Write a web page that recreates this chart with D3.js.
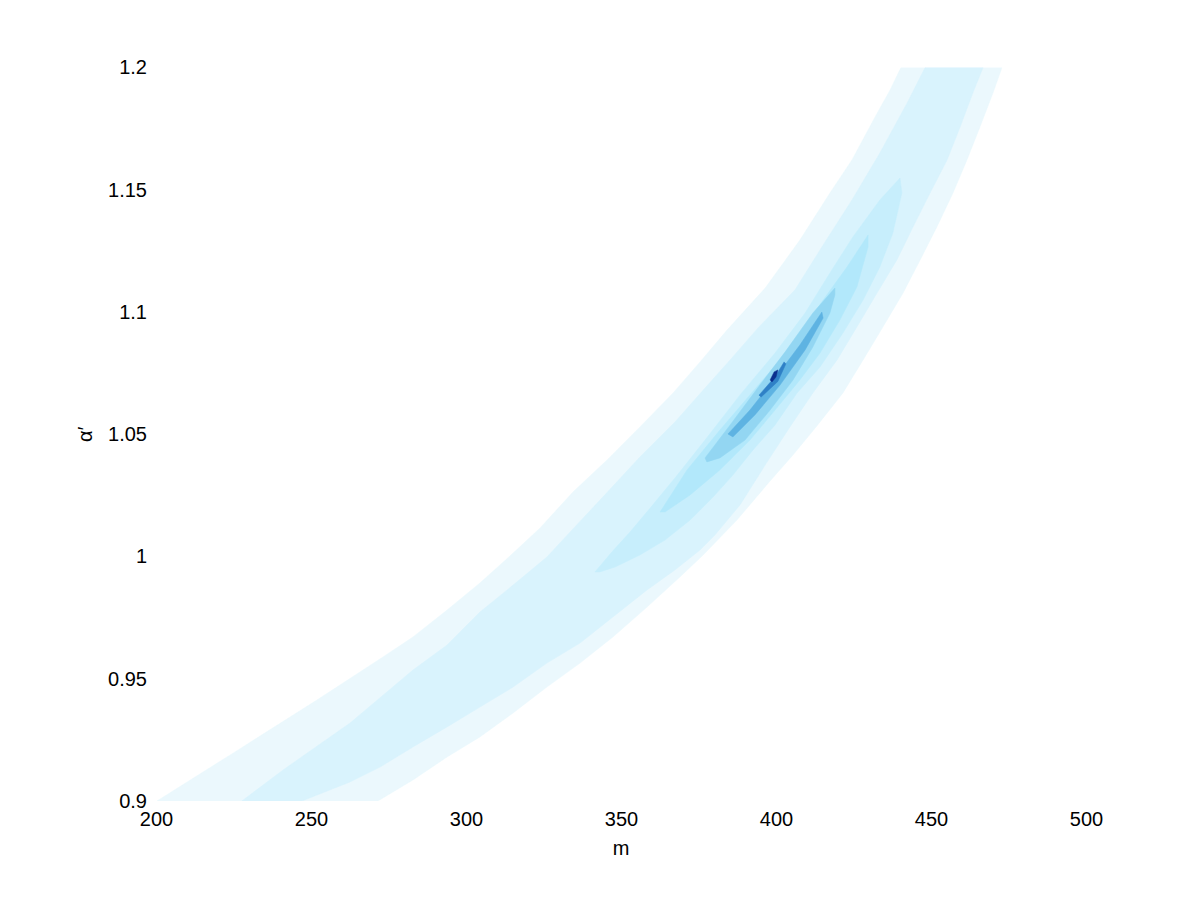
<!DOCTYPE html>
<html>
<head>
<meta charset="utf-8">
<script src="https://cdn.jsdelivr.net/npm/d3@7/dist/d3.min.js"></script>
<style>
	body { margin: 0; background: #fff; }
	svg text { font-family: "Liberation Sans", Arial, sans-serif; }
</style>
</head>
<body>
<div id="chart"></div>
<script>
// tick values
var mTicks = [200, 250, 300, 350, 400, 450, 500];
var alphaTicks = [0.9, 0.95, 1, 1.05, 1.1, 1.15, 1.2];

// filled contour levels, outermost first, as [m, alpha] outlines
var level1 = [[200.3,0.9],[226.5,0.9209],[251.9,0.9413],[273.2,0.9589],[282.9,0.9671],[293.9,0.9781],[304.5,0.9892],
	[315.2,1.0014],[323.9,1.0117],[334.5,1.0264],[345.5,1.0395],[356.1,1.053],[366.8,1.0669],[375.5,1.0796],[384.2,1.0926],
	[396.5,1.1098],[407.7,1.1294],[417.4,1.1487],[424.5,1.1622],[432.3,1.1806],[436.8,1.1908],[440.3,1.2],
	[472.9,1.2],[470,1.1896],[465.8,1.1757],[461.6,1.1622],[457.1,1.1487],[451.9,1.1348],[446.5,1.1213],[441,1.1078],
	[434.5,1.0939],[428.1,1.0804],[421.6,1.0669],[413.2,1.0534],[405.2,1.0411],[398.1,1.0309],[387.4,1.0149],[376.5,1.0006],
	[369,0.9916],[358.4,0.9793],[347.4,0.9671],[336.8,0.9564],[326.1,0.9466],[315.2,0.936],[304.5,0.9262],[293.9,0.918],
	[282.9,0.9086],[271.6,0.9]];
var level2 = [[227.7,0.9],[241,0.9127],[262.6,0.9319],[282.9,0.9536],[293.9,0.9638],[304.5,0.9773],[315.2,0.9883],
	[326.1,0.9998],[334.8,1.0117],[344.5,1.0248],[356.1,1.0407],[367.4,1.055],[377.1,1.0689],[385.2,1.0804],[394.2,1.0935],
	[406.1,1.109],[415.2,1.1274],[424.5,1.1458],[433.5,1.165],[442.3,1.1855],[448.1,1.2],
	[466.8,1.2],[463.5,1.1896],[459.4,1.1757],[455.2,1.1622],[449.7,1.1487],[444.2,1.1348],[439,1.1213],[432.6,1.1078],
	[426.1,1.0939],[419.7,1.0804],[411.9,1.0669],[404.5,1.053],[396.5,1.0374],[388.4,1.0211],[380.3,1.0088],[375.5,1.0027],
	[367.4,0.9945],[358.4,0.9863],[347.4,0.9753],[336.8,0.9646],[326.1,0.9564],[315.2,0.9466],[304.5,0.9384],[293.9,0.9303],
	[282.9,0.9221],[272.3,0.9139],[262.6,0.9078],[247.1,0.9]];
var level3 = [[341.6,0.9937],[347.1,1.0019],[352.9,1.01],[359.4,1.0198],[367.4,1.0321],[377.1,1.0476],[388.4,1.0661],
	[399.7,1.0832],[409.4,1.0996],[417.4,1.116],[424.8,1.1307],[433.5,1.1458],[440,1.1548],
	[440.6,1.1487],[437.7,1.1323],[433.5,1.1184],[428.1,1.1049],[421.6,1.0914],[414.2,1.0775],[406.8,1.0669],[399.7,1.0538],
	[392.6,1.0436],[386.1,1.0333],[379.7,1.0243],[372.3,1.0149],[364.2,1.0067],[356.1,1.0006],[348.1,0.9957],[343.2,0.9937]];
var level4 = [[362.6,1.0182],[371.3,1.0354],[381.9,1.0517],[391.6,1.0661],[401.3,1.0804],[407.7,1.0914],[415.2,1.1049],
	[422.9,1.1184],[429.7,1.1315],
	[429.7,1.1266],[426.1,1.1102],[420.6,1.0967],[414.2,1.0832],[407.7,1.0722],[399.7,1.0599],[391.6,1.0476],[381.9,1.0354],
	[372.3,1.0252],[364.2,1.0182]];
var level5 = [[377.1,1.0403],[385.2,1.0538],[394.8,1.0701],[402.9,1.0836],[411.9,1.0996],[419,1.1098],
	[419,1.107],[417.4,1.0996],[411.9,1.0857],[405.5,1.0722],[398.1,1.0599],[390,1.0476],[381.9,1.0403],[377.7,1.0387]];
var level6 = [[384.5,1.0501],[391.6,1.0599],[399.7,1.073],[407.7,1.0865],[414.8,1.1],
	[415.2,1.0975],[409.4,1.0845],[401.3,1.0701],[393.2,1.0579],[386.1,1.0489]];
var level7 = [[394.5,1.066],[399.7,1.0735],[402.6,1.0796],[403.2,1.0788],[400.6,1.0716],[395.2,1.0652]];
var level8 = [[398.1,1.0722],[399.4,1.0755],[400.6,1.0763],[400,1.0734],[398.7,1.0714]];

var levels = [level1, level2, level3, level4, level5, level6, level7, level8];
var levelColors = ["#ebf8fd", "#d9f3fd", "#c7eefc", "#b2e8fb", "#93d6f2", "#5eb3e2", "#2f80c6", "#0b2f8f"];

var width = 1200, height = 900;
var margin = {left: 156, right: 114, top: 67.5, bottom: 99};

var svg = d3.select("#chart").append("svg")
	.attr("width", width)
	.attr("height", height);

var x = d3.scaleLinear()
	.domain([200, 500])
	.range([margin.left, width - margin.right]);
var y = d3.scaleLinear()
	.domain([0.9, 1.2])
	.range([height - margin.bottom, margin.top]);

svg.append("clipPath")
	.attr("id", "plot_clip")
	.append("rect")
	.attr("x", x(200))
	.attr("y", y(1.2))
	.attr("width", x(500) - x(200))
	.attr("height", y(0.9) - y(1.2));

var line = d3.line()
	.x(function(d) { return x(d[0]); })
	.y(function(d) { return y(d[1]); })
	.curve(d3.curveLinearClosed);

svg.append("g")
	.attr("clip-path", "url(#plot_clip)")
	.selectAll("path")
	.data(levels)
	.enter()
	.append("path")
	.attr("d", line)
	.attr("fill", function(d, i) { return levelColors[i]; })
	.attr("stroke", function(d, i) { return levelColors[i]; })
	.attr("stroke-width", 0.5);

// axes: labels only, lines are white in the original
var xAxis = d3.axisBottom(x)
	.tickValues(mTicks)
	.tickFormat(d3.format("d"))
	.tickSize(0)
	.tickPadding(11);
var yAxis = d3.axisLeft(y)
	.tickValues(alphaTicks)
	.tickFormat(function(d) { return String(+d.toFixed(2)); })
	.tickSize(0)
	.tickPadding(9);

var gx = svg.append("g")
	.attr("transform", "translate(0," + y(0.9) + ")")
	.call(xAxis);
var gy = svg.append("g")
	.attr("transform", "translate(" + x(200) + ",0)")
	.call(yAxis);

[gx, gy].forEach(function(g) {
	g.select(".domain").remove();
	g.selectAll("text")
		.attr("fill", "#000")
		.style("font-size", "20px")
		.style("font-family", "'Liberation Sans', Arial, sans-serif");
});

svg.append("text")
	.attr("x", (x(200) + x(500)) / 2)
	.attr("y", 855)
	.attr("text-anchor", "middle")
	.style("font-size", "20px")
	.text("m");

svg.append("text")
	.attr("transform", "translate(92," + ((y(0.9) + y(1.2)) / 2) + ") rotate(-90)")
	.attr("text-anchor", "middle")
	.style("font-size", "20px")
	.text("α′");
</script>
</body>
</html>
